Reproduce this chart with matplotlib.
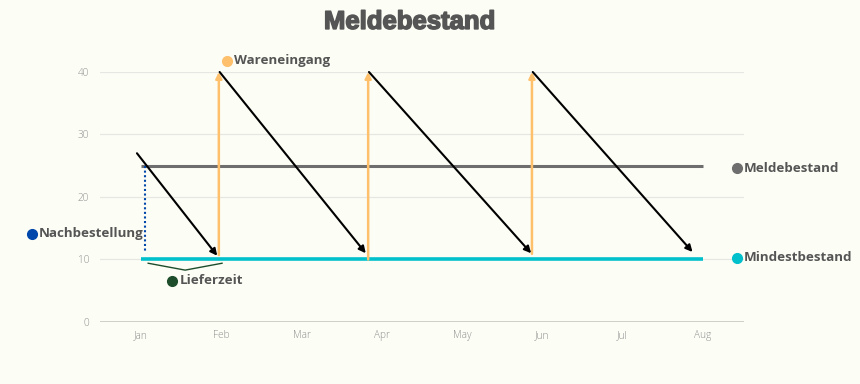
import matplotlib.pyplot as plt
import matplotlib.patheffects as pe
import numpy as np

months = ["Jan", "Feb", "Mar", "Apr", "May", "Jun", "Jul", "Aug"]
y_ticks = [0, 10, 20, 30, 40]

meldebestand = 25
mindestbestand = 10

# consumption arrows (start x, start y, end x, end y) in month units
cons_start_x = [-0.05, 0.98, 2.84, 4.88]
cons_start_y = [27, 40, 40, 40]
cons_end_x = [0.95, 2.80, 4.86, 6.87]
cons_end_y = [10.6, 11.0, 11.0, 11.2]

# goods receipt arrows
receipt_x = [0.97, 2.83, 4.87]
receipt_from = [10.7, 10.0, 10.9]
receipt_to = [40, 40, 40]

# reorder dotted line
reorder_x = 0.05
reorder_from = 25
reorder_to = 11

# lead time brace
brace_x = [0.09, 0.55, 1.01]
brace_y = [9.4, 8.3, 9.4]

# labels: text, x, y, color
labels = [
    ("Wareneingang", 1.07, 41.8, "#ffc06b"),
    ("Nachbestellung", -1.36, 14.1, "#0047ab"),
    ("Lieferzeit", 0.39, 6.6, "#1e4d2b"),
    ("Meldebestand", 7.42, 24.6, "#6e6e6e"),
    ("Mindestbestand", 7.42, 10.3, "#00c0cc"),
]

bg = "#fcfdf5"
fig = plt.figure(figsize=(8.6, 3.84), dpi=100, facecolor=bg)
ax = fig.add_axes([0.1163, 0.1615, 0.7487, 0.651])
ax.set_facecolor(bg)
ax.set_xlim(-0.51, 7.51)
ax.set_ylim(0, 40)

for s in ax.spines.values():
    s.set_visible(False)
ax.set_yticks(y_ticks)
ax.set_xticks(range(len(months)))
ax.set_xticklabels(months)
ax.tick_params(length=0, labelsize=7.2, labelcolor="#8f8f8f")
ax.tick_params(axis="x", pad=6)
ax.tick_params(axis="y", pad=8)
for lab in ax.get_xticklabels() + ax.get_yticklabels():
    lab.set_fontfamily("Open Sans")
    lab.set_fontweight("light")
ax.grid(axis="y", color="#e6e6e2", lw=0.9)
ax.set_axisbelow(True)
ax.axhline(0, color="#c8c8c4", lw=1.2, zorder=1)

ax.plot([0, 7], [meldebestand, meldebestand], color="#6e6e6e", lw=2.2, zorder=2, solid_capstyle="butt")
ax.plot([0, 7], [mindestbestand, mindestbestand], color="#00c0cc", lw=2.6, zorder=3, solid_capstyle="butt")

for x0, y0, x1, y1 in zip(cons_start_x, cons_start_y, cons_end_x, cons_end_y):
    ax.annotate("", xy=(x1, y1), xytext=(x0, y0),
                arrowprops=dict(arrowstyle="-|>", color="black", lw=1.5,
                                mutation_scale=10, shrinkA=0, shrinkB=0), zorder=4)

for x, y0, y1 in zip(receipt_x, receipt_from, receipt_to):
    ax.annotate("", xy=(x, y1), xytext=(x, y0),
                arrowprops=dict(arrowstyle="-|>", color="#ffc06b", lw=1.8,
                                mutation_scale=9, shrinkA=0, shrinkB=0), zorder=3)

ax.plot([reorder_x, reorder_x], [reorder_from, reorder_to], color="#0047ab",
        lw=1.5, ls=(0, (1, 1.2)), zorder=3)
ax.plot(brace_x, brace_y, color="#1e4d2b", lw=1.0, zorder=3)

for text, x, y, c in labels:
    ax.plot([x], [y], "o", color=c, ms=7, clip_on=False, zorder=5)
    ax.text(x + 0.09, y, text, color="#555555", fontsize=9.6, fontweight="bold",
            fontfamily="Open Sans", va="center", ha="left", clip_on=False)

fig.text(0.4767, 0.943, "Meldebestand", ha="center", va="center", fontsize=18.5,
         fontweight="heavy", fontfamily="Liberation Sans", color="#555555",
         path_effects=[pe.withStroke(linewidth=1.1, foreground="#555555")])

fig.savefig("out.png", dpi=100, facecolor=bg)
